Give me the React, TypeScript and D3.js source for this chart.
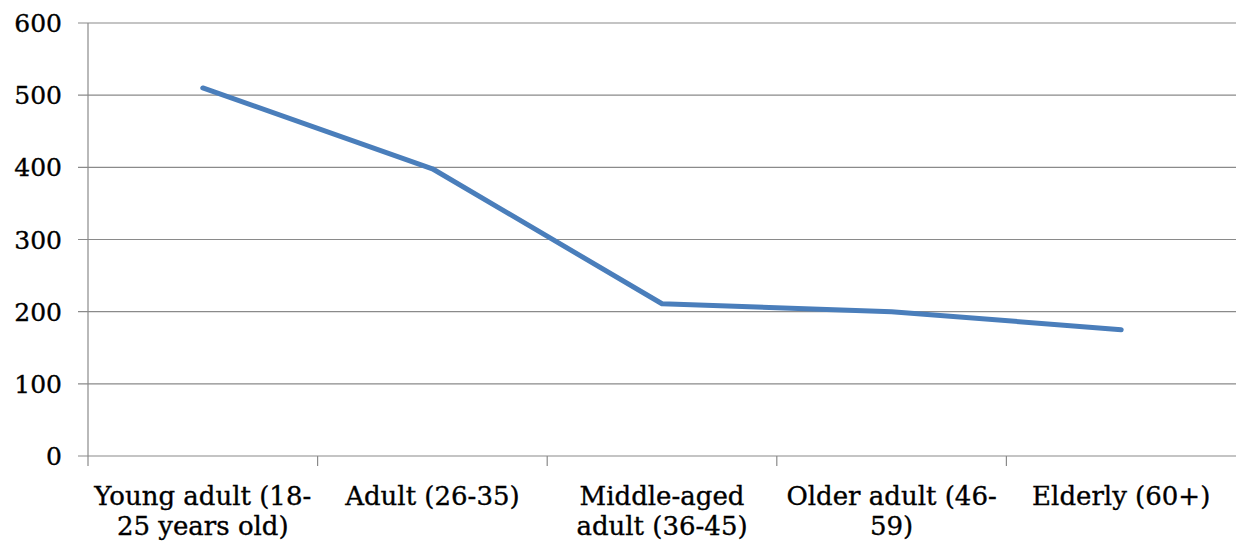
import React from "react";
import * as d3 from "d3";

// Age groups, their wrapped axis labels, and the count for each group
const categories = [
  "Young adult (18-25 years old)",
  "Adult (26-35)",
  "Middle-aged adult (36-45)",
  "Older adult (46-59)",
  "Elderly (60+)",
];
const labelLines = [
  ["Young adult (18-", "25 years old)"],
  ["Adult (26-35)"],
  ["Middle-aged", "adult (36-45)"],
  ["Older adult (46-", "59)"],
  ["Elderly (60+)"],
];
const values = [510, 398, 211, 200, 175];
const yTicks = [0, 100, 200, 300, 400, 500, 600];

const W = 1236;
const H = 544;
const left = 88;
const right = 1236;
const top = 23;
const bottom = 456;

const font = "'DejaVu Serif', 'Liberation Serif', serif";

export default function App() {
  const x = d3.scaleBand<string>().domain(categories).range([left, right]).padding(0);
  const y = d3.scaleLinear().domain([0, 600]).range([bottom, top]);
  const cx = (c: string) => (x(c) ?? 0) + x.bandwidth() / 2;

  const line = d3
    .line<number>()
    .x((_, i) => cx(categories[i]))
    .y((d) => y(d));

  const grid = "#8a8a8a";
  const boundaries = categories.map((c) => x(c) ?? 0);

  return (
    <svg
      width={W}
      height={H}
      style={{ position: "absolute", left: 0, top: 0, background: "#fff" }}
    >
      {/* horizontal gridlines with left ticks */}
      {yTicks.map((t) => (
        <g key={t}>
          <line x1={left - 10} x2={right} y1={y(t)} y2={y(t)} stroke={grid} strokeWidth={1.2} />
          <text
            x={62}
            y={y(t)}
            dy="0.36em"
            textAnchor="end"
            fontFamily={font}
            fontSize={25}
            fill="#000"
            stroke="#000"
            strokeWidth={0.35}
          >
            {t}
          </text>
        </g>
      ))}
      {/* vertical axis */}
      <line x1={left} x2={left} y1={top} y2={bottom + 10} stroke={grid} strokeWidth={1.2} />
      {/* category tick marks */}
      {boundaries.slice(1).map((b, i) => (
        <line key={i} x1={b} x2={b} y1={bottom} y2={bottom + 10} stroke={grid} strokeWidth={1.2} />
      ))}
      {/* category labels */}
      {categories.map((c, i) => (
        <text
          key={c}
          x={cx(c)}
          y={505}
          textAnchor="middle"
          fontFamily={font}
          fontSize={26}
          fill="#000"
          stroke="#000"
          strokeWidth={0.35}
        >
          {labelLines[i].map((l, j) => (
            <tspan key={j} x={cx(c)} dy={j === 0 ? 0 : 30}>
              {l}
            </tspan>
          ))}
        </text>
      ))}
      {/* series line */}
      <path
        d={line(values) ?? ""}
        fill="none"
        stroke="#4a7ebb"
        strokeWidth={5}
        strokeLinejoin="round"
        strokeLinecap="round"
      />
    </svg>
  );
}
